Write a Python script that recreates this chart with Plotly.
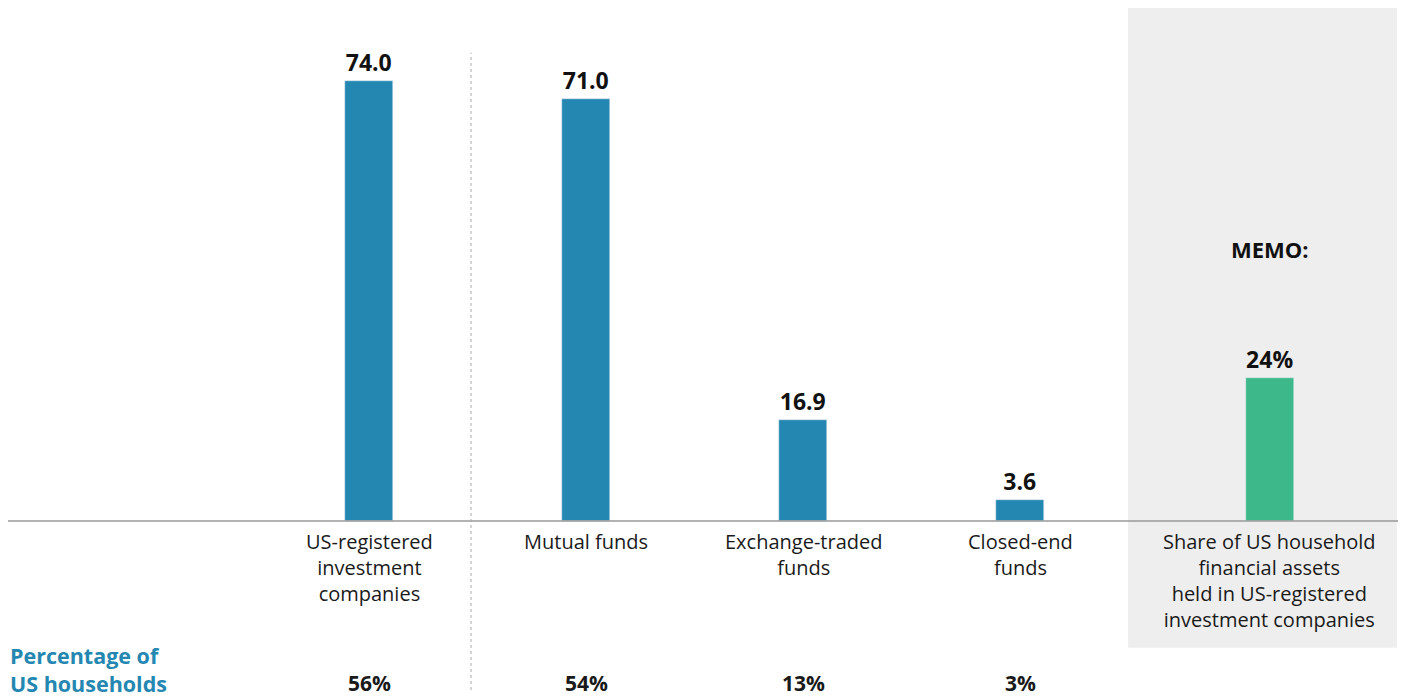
import plotly.graph_objects as go

# ---- data ----
categories = ["US-registered<br>investment<br>companies", "Mutual funds",
              "Exchange-traded<br>funds", "Closed-end<br>funds"]
assets_trillions = [74.0, 71.0, 16.9, 3.6]
household_pct = ["56%", "54%", "13%", "3%"]
memo_label = "Share of US household<br>financial assets<br>held in US-registered<br>investment companies"
memo_value = [24]
row_label = "Percentage of<br>US households"

BLUE = "#2487B1"
GREEN = "#3DB88B"
FONT = "'Open Sans', Lato, sans-serif"

# positions (layout, derived from indices)
xs = list(range(len(categories)))
memo_x = len(categories) + 0.152
bar_w = 0.222

fig = go.Figure()
fig.add_trace(go.Bar(
    x=xs, y=assets_trillions, width=bar_w, marker_color=BLUE,
    text=[f"{v:.1f}" for v in assets_trillions], textposition="outside",
    textfont=dict(size=23, color="#111", family=FONT, weight="bold"),
    cliponaxis=False, hoverinfo="skip"))
fig.add_trace(go.Bar(
    x=[memo_x], y=memo_value, width=bar_w, marker_color=GREEN,
    text=[f"{v}%" for v in memo_value], textposition="outside",
    textfont=dict(size=23, color="#111", family=FONT, weight="bold"),
    cliponaxis=False, hoverinfo="skip"))

x0, x1 = -1.664, 4.742
y0, y1 = -29.75, 87.56

shapes = [
    dict(type="rect", xref="x", yref="y", x0=3.498, x1=4.737, y0=-21.3, y1=86.2,
         fillcolor="#EEEEEE", line=dict(width=0), layer="below"),
    dict(type="line", xref="x", yref="y", x0=x0, x1=4.742, y0=0, y1=0,
         line=dict(color="#999999", width=1.5)),
    dict(type="line", xref="x", yref="y", x0=0.47, x1=0.47, y0=-28.4, y1=78.7,
         line=dict(color="#AAAAAA", width=1, dash="dot")),
]

cat_font = dict(size=20, color="#1a1a1a", family=FONT)
annotations = []
for x, c, p in zip(xs, categories, household_pct):
    annotations.append(dict(x=x, y=0, xref="x", yref="y", text=c, showarrow=False,
                            yanchor="top", yshift=-5, align="center", font=cat_font))
    annotations.append(dict(x=x, y=-27.2, xref="x", yref="y", text=p, showarrow=False,
                            yanchor="middle", align="center",
                            font=dict(size=21, color="#1a1a1a", family=FONT, weight="bold")))
annotations.append(dict(x=memo_x, y=0, xref="x", yref="y", text=memo_label, showarrow=False,
                        yanchor="top", yshift=-5, align="center", font=cat_font))
annotations.append(dict(x=memo_x, y=45.7, xref="x", yref="y", text="MEMO:", showarrow=False,
                        yanchor="middle", align="center",
                        font=dict(size=22, color="#111", family=FONT, weight="bold")))
annotations.append(dict(x=x0, y=-25.0, xref="x", yref="y", text=row_label,
                        showarrow=False, xanchor="left", yanchor="middle", align="left",
                        font=dict(size=21.5, color=BLUE, family=FONT, weight="bold")))

fig.update_layout(
    width=1405, height=698, margin=dict(l=8, r=7, t=0, b=0),
    paper_bgcolor="white", plot_bgcolor="white", showlegend=False,
    xaxis=dict(range=[x0, x1], visible=False, fixedrange=True),
    yaxis=dict(range=[y0, y1], visible=False, fixedrange=True),
    shapes=shapes, annotations=annotations, bargap=0,
    font=dict(family=FONT),
)
fig.write_html("out.html", config={"displayModeBar": False},
               post_script="document.body.style.margin='0';document.body.style.overflow='hidden';")
